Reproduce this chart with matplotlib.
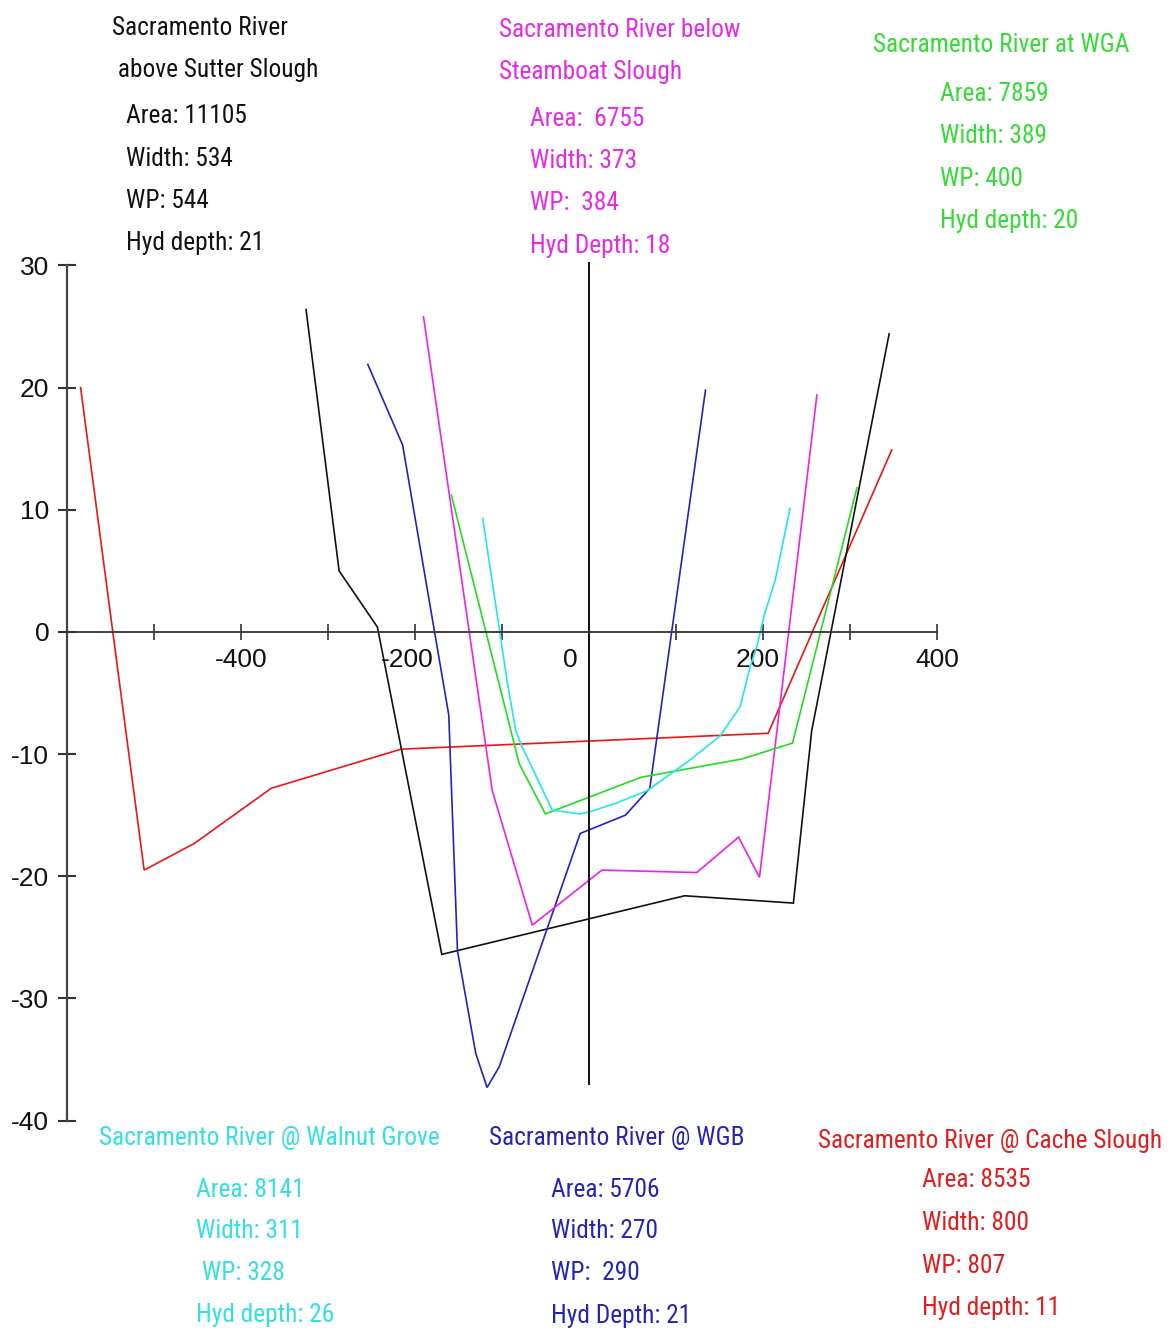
import matplotlib
matplotlib.use("Agg")
import matplotlib.pyplot as plt
from matplotlib import font_manager
from matplotlib.font_manager import FontProperties
from matplotlib.transforms import ScaledTranslation

# --------- cross sections: station (ft) vs elevation (ft) ---------
sutter_x = [-325, -287, -243, -169, 110, 235, 256, 345]
sutter_y = [26.4, 5.0, 0.4, -26.4, -21.6, -22.2, -8.1, 24.4]

steamboat_x = [-190, -111, -65, 15, 124, 172, 196, 262]
steamboat_y = [25.8, -13.0, -24.0, -19.5, -19.7, -16.8, -20.1, 19.4]

wga_x = [-158, -80, -50, 60, 176, 234, 308]
wga_y = [11.2, -10.8, -14.9, -11.9, -10.4, -9.1, 11.8]

walnut_x = [-122, -94, -84, -78, -42, -10, 2, 32, 67, 116, 151, 174, 185, 193, 202, 214, 231]
walnut_y = [9.3, -4.0, -8.1, -9.2, -14.6, -14.9, -14.7, -14.0, -13.0, -10.5, -8.5, -6.1, -2.9, -1.2, 1.5, 4.2, 10.1]

wgb_x = [-254, -214, -161, -151, -130, -117, -103, -10, 42, 70, 134]
wgb_y = [21.9, 15.3, -6.8, -26.1, -34.5, -37.3, -35.6, -16.5, -15.0, -12.8, 19.8]

cache_x = [-584, -511, -453, -365, -216, 206, 348]
cache_y = [20.0, -19.5, -17.3, -12.8, -9.6, -8.3, 14.9]

# station summaries
sutter_txt = ["Sacramento River", " above Sutter Slough", "Area: 11105", "Width: 534", "WP: 544", "Hyd depth: 21"]
steamboat_txt = ["Sacramento River below", "Steamboat Slough", "Area:  6755", "Width: 373", "WP:  384", "Hyd Depth: 18"]
wga_txt = ["Sacramento River at WGA", "Area: 7859", "Width: 389", "WP: 400", "Hyd depth: 20"]
walnut_txt = ["Sacramento River @ Walnut Grove", "Area: 8141", "Width: 311", " WP: 328", "Hyd depth: 26"]
wgb_txt = ["Sacramento River @ WGB", "Area: 5706", "Width: 270", "WP:  290", "Hyd Depth: 21"]
cache_txt = ["Sacramento River @ Cache Slough", "Area: 8535", "Width: 800", "WP: 807", "Hyd depth: 11"]

x_ticks = list(range(-500, 401, 100))
x_labels = ["" if v % 200 else str(v) for v in x_ticks]
y_ticks = list(range(-40, 31, 10))


# --------- pick a narrow face for the station notes ---------
def narrow_font():
    prefs = ["Liberation Sans Narrow", "Roboto Condensed", "Open Sans Condensed",
             "Noto Sans Condensed", "Noto Sans", "DejaVu Sans", "Arial Narrow"]
    cands = []
    for f in font_manager.fontManager.ttflist:
        if f.style != "normal" or f.weight not in (400, "normal", "regular"):
            continue
        st = f.stretch
        narrowish = ("Narrow" in f.name or "Condensed" in f.name or
                     st in ("condensed", "semi-condensed", "extra-condensed") or
                     (isinstance(st, int) and st < 100))
        if not narrowish:
            continue
        rank = prefs.index(f.name) if f.name in prefs else len(prefs)
        fn = f.fname.lower()
        if "semicondensed" in fn or "semi-condensed" in str(st):
            rank += 0.5
        if "extracondensed" in fn or "extra" in str(st):
            rank += 0.7
        cands.append((rank, f.fname))
    if cands:
        cands.sort()
        return FontProperties(fname=cands[0][1])
    return FontProperties(family="Roboto")


NOTE_FONT = narrow_font()

# --------- style ---------
plt.rcParams["axes.unicode_minus"] = False
C = dict(black="#111111", magenta="#f020f0", green="#22dd22",
         cyan="#22e8e8", blue="#2222c8", red="#ee1515")
TXT = dict(black="#111111", magenta="#e82ae8", green="#33dd33",
           cyan="#33e0e0", blue="#2424b8", red="#e41c1c")

W, H = 1173, 1331
fig = plt.figure(figsize=(W / 100, H / 100), dpi=100)
ax = fig.add_axes([66.7 / W, 1 - 1120.5 / H, (937 - 66.7) / W, (1120.5 - 265.5) / H])

for xs, ys, c in [(cache_x, cache_y, C["red"]), (sutter_x, sutter_y, C["black"]),
                  (wgb_x, wgb_y, C["blue"]), (steamboat_x, steamboat_y, C["magenta"]),
                  (wga_x, wga_y, C["green"]), (walnut_x, walnut_y, C["cyan"])]:
    ax.plot(xs, ys, color=c, lw=1.2, solid_joinstyle="miter")

# centre line
ax.vlines(0, -37.1, 30.3, color="#111111", lw=1.4, clip_on=False)

ax.set_xlim(-600, 400)
ax.set_ylim(-40, 30)
for s in ("top", "right"):
    ax.spines[s].set_visible(False)
ax.spines["bottom"].set_position(("data", 0))
ax.spines["left"].set_color("#444444")
ax.spines["bottom"].set_color("#333333")
ax.spines["left"].set_linewidth(1.6)
ax.spines["bottom"].set_linewidth(1.3)

ax.set_yticks(y_ticks)
ax.set_xticks(x_ticks)
ax.set_xticklabels(x_labels)
ax.tick_params(axis="y", direction="inout", length=13, width=1.5, color="#333333",
               pad=6, labelsize=19)
ax.tick_params(axis="x", direction="inout", length=11, width=1.2, color="#333333",
               pad=6, labelsize=19)
for lab in ax.get_xticklabels() + ax.get_yticklabels():
    lab.set_fontfamily(["Liberation Sans", "DejaVu Sans"])
    lab.set_color("#111111")

# nudge a few x labels like the hand placed originals
nudge = {"-200": -8, "0": -19, "200": -5}
for lab in ax.get_xticklabels():
    dx = nudge.get(lab.get_text(), 0)
    if dx:
        lab.set_transform(lab.get_transform() + ScaledTranslation(dx / 100, 0, fig.dpi_scale_trans))

# size the notes so the widest heading spans ~343 px
probe = fig.text(0, 0, cache_txt[0], fontproperties=NOTE_FONT, fontsize=20)
fig.canvas.draw()
wpx = probe.get_window_extent().width
probe.remove()
note_size = min(22, 20 * 343 / wpx)


def block(lines, rows, color):
    for (x, y), s in zip(rows, lines):
        fig.text(x / W, 1 - y / H, s, color=color, fontproperties=NOTE_FONT,
                 fontsize=note_size, ha="left", va="baseline")


block(sutter_txt, [(112, 35), (112, 77), (126, 123), (126, 166), (126, 208), (126, 250)], TXT["black"])
block(steamboat_txt, [(499, 37), (499, 79), (530, 126), (530, 168), (530, 210), (530, 253)], TXT["magenta"])
block(wga_txt, [(873, 52), (940, 101), (940, 143), (940, 186), (940, 228)], TXT["green"])
block(walnut_txt, [(99, 1145), (196, 1197), (196, 1238), (196, 1280), (196, 1322)], TXT["cyan"])
block(wgb_txt, [(489, 1145), (551, 1197), (551, 1238), (551, 1280), (551, 1323)], TXT["blue"])
block(cache_txt, [(818, 1148), (922, 1187), (922, 1230), (922, 1273), (922, 1315)], TXT["red"])

fig.savefig("out.png", dpi=100)
